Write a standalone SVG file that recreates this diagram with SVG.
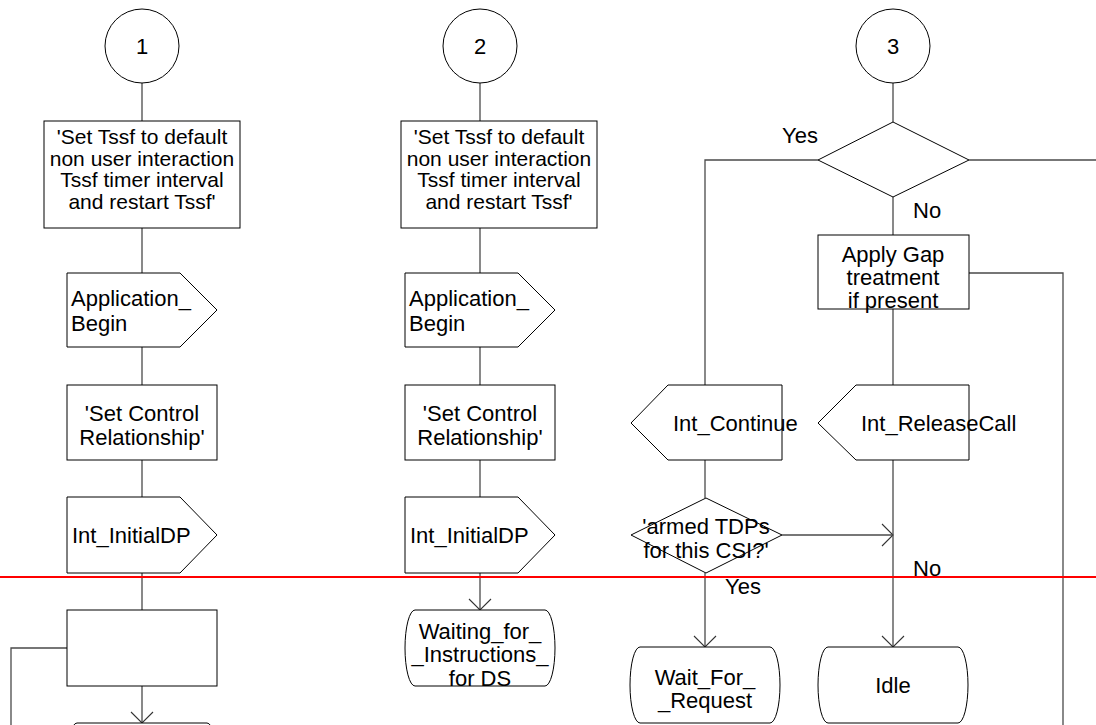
<svg xmlns="http://www.w3.org/2000/svg" width="1096" height="725" viewBox="0 0 1096 725">
  <style>
    .shape { fill: #ffffff; stroke: #000000; stroke-width: 1; }
    .conn { fill: none; stroke: #4a4a4a; stroke-width: 1.3; }
    .arr { marker-end: url(#vhead); }
    text { font-family: "Liberation Sans", Arial, sans-serif; font-size: 22px; fill: #000000; }
    .c { text-anchor: middle; }
    .small { font-size: 21px; }
    .cut { stroke: #ff0000; stroke-width: 2; }
  </style>
  <defs>
    <marker id="vhead" viewBox="-13 -13 15 26" refX="0" refY="0" markerWidth="15" markerHeight="26" markerUnits="userSpaceOnUse" orient="auto">
      <path d="M-11,-11 L0,0 L-11,11" fill="none" stroke="#333333" stroke-width="1.1"/>
    </marker>
  </defs>

  <!-- connectors -->
  <g id="connectors">
    <!-- column 1 -->
    <line class="conn" x1="142" y1="83" x2="142" y2="121"/>
    <line class="conn" x1="142" y1="228" x2="142" y2="273"/>
    <line class="conn" x1="142" y1="347" x2="142" y2="385"/>
    <line class="conn" x1="142" y1="460" x2="142" y2="497"/>
    <line class="conn" x1="142" y1="573" x2="142" y2="610"/>
    <line class="conn arr" x1="142" y1="686" x2="142" y2="723"/>
    <polyline class="conn" points="67,648 11,648 11,725"/>
    <!-- column 2 -->
    <line class="conn" x1="480" y1="83" x2="480" y2="121"/>
    <line class="conn" x1="480" y1="228" x2="480" y2="273"/>
    <line class="conn" x1="480" y1="347" x2="480" y2="385"/>
    <line class="conn" x1="480" y1="460" x2="480" y2="497"/>
    <line class="conn arr" x1="480" y1="573" x2="480" y2="610"/>
    <!-- column 3 -->
    <line class="conn" x1="893" y1="83" x2="893" y2="122"/>
    <polyline class="conn" points="818,160 705,160 705,385"/>
    <line class="conn" x1="969" y1="160" x2="1096" y2="160"/>
    <line class="conn" x1="893" y1="197" x2="893" y2="235"/>
    <polyline class="conn" points="969,273 1063,273 1063,725"/>
    <line class="conn" x1="893" y1="309" x2="893" y2="385"/>
    <line class="conn" x1="705" y1="460" x2="705" y2="498"/>
    <line class="conn arr" x1="782" y1="535" x2="893" y2="535"/>
    <line class="conn arr" x1="893" y1="460" x2="893" y2="647"/>
    <line class="conn arr" x1="705" y1="573" x2="705" y2="647"/>
  </g>

  <!-- column 1 -->
  <g id="conn1">
    <circle class="shape" cx="142" cy="46" r="37"/>
    <text class="c" x="142" y="54">1</text>
  </g>
  <g id="task1a">
    <rect class="shape" x="44" y="121" width="196" height="107"/>
    <text class="c small" x="142" y="144">'Set Tssf to default</text>
    <text class="c small" x="142" y="166">non user interaction</text>
    <text class="c small" x="142" y="187">Tssf timer interval</text>
    <text class="c small" x="142" y="209">and restart Tssf'</text>
  </g>
  <g id="out1a">
    <path class="shape" d="M67,273 H180 L217,310 L180,347 H67 Z"/>
    <text x="71" y="306">Application_</text>
    <text x="71" y="331">Begin</text>
  </g>
  <g id="task1b">
    <rect class="shape" x="67" y="385" width="150" height="75"/>
    <text class="c" x="142" y="421">'Set Control</text>
    <text class="c" x="142" y="445">Relationship'</text>
  </g>
  <g id="out1b">
    <path class="shape" d="M67,497 H180 L217,535 L180,573 H67 Z"/>
    <text x="72" y="543">Int_InitialDP</text>
  </g>
  <g id="task1c">
    <rect class="shape" x="67" y="610" width="150" height="76"/>
  </g>
  <g id="state1">
    <path class="shape" d="M77,723 H207 A10,38 0 0 1 207,799 H77 A10,38 0 0 1 77,723 Z"/>
  </g>

  <!-- column 2 -->
  <g id="conn2">
    <circle class="shape" cx="480" cy="46" r="37"/>
    <text class="c" x="480" y="54">2</text>
  </g>
  <g id="task2a">
    <rect class="shape" x="401" y="121" width="196" height="107"/>
    <text class="c small" x="499" y="144">'Set Tssf to default</text>
    <text class="c small" x="499" y="166">non user interaction</text>
    <text class="c small" x="499" y="187">Tssf timer interval</text>
    <text class="c small" x="499" y="209">and restart Tssf'</text>
  </g>
  <g id="out2a">
    <path class="shape" d="M405,273 H518 L555,310 L518,347 H405 Z"/>
    <text x="409" y="306">Application_</text>
    <text x="409" y="331">Begin</text>
  </g>
  <g id="task2b">
    <rect class="shape" x="405" y="385" width="150" height="75"/>
    <text class="c" x="480" y="421">'Set Control</text>
    <text class="c" x="480" y="445">Relationship'</text>
  </g>
  <g id="out2b">
    <path class="shape" d="M405,497 H518 L555,535 L518,573 H405 Z"/>
    <text x="410" y="543">Int_InitialDP</text>
  </g>
  <g id="state2">
    <path class="shape" d="M415,610 H545 A10,38 0 0 1 545,686 H415 A10,38 0 0 1 415,610 Z"/>
    <text class="c" x="480" y="639">Waiting_for_</text>
    <text class="c" x="480" y="662">_Instructions_</text>
    <text class="c" x="480" y="686">for DS</text>
  </g>

  <!-- column 3 -->
  <g id="conn3">
    <circle class="shape" cx="893" cy="46" r="37"/>
    <text class="c" x="893" y="54">3</text>
  </g>
  <g id="dec3a">
    <path class="shape" d="M893,122 L969,160 L893,197 L818,160 Z"/>
    <text x="782" y="143">Yes</text>
    <text x="913" y="218">No</text>
  </g>
  <g id="task3a">
    <rect class="shape" x="818" y="235" width="151" height="74"/>
    <text class="c" x="893" y="262">Apply Gap</text>
    <text class="c" x="893" y="285">treatment</text>
    <text class="c" x="893" y="308">if present</text>
  </g>
  <g id="in3a">
    <path class="shape" d="M631,423 L668,385 H782 V460 H668 Z"/>
    <text x="673" y="431">Int_Continue</text>
  </g>
  <g id="in3b">
    <path class="shape" d="M818,423 L856,385 H969 V460 H856 Z"/>
    <text x="861" y="431">Int_ReleaseCall</text>
  </g>
  <g id="dec3b">
    <path class="shape" d="M706,498 L782,535 L706,573 L631,535 Z"/>
    <text class="c" x="706" y="534">'armed TDPs</text>
    <text class="c" x="706" y="558">for this CSI?'</text>
    <text x="725" y="594">Yes</text>
    <text x="913" y="576">No</text>
  </g>
  <g id="state3a">
    <path class="shape" d="M640,647 H770 A10,38 0 0 1 770,723 H640 A10,38 0 0 1 640,647 Z"/>
    <text class="c" x="705" y="685">Wait_For_</text>
    <text class="c" x="705" y="708">_Request</text>
  </g>
  <g id="state3b">
    <path class="shape" d="M828,647 H958 A10,38 0 0 1 958,723 H828 A10,38 0 0 1 828,647 Z"/>
    <text class="c" x="893" y="693">Idle</text>
  </g>

  <!-- page cut marker -->
  <line class="cut" x1="0" y1="577" x2="1096" y2="577"/>
</svg>
